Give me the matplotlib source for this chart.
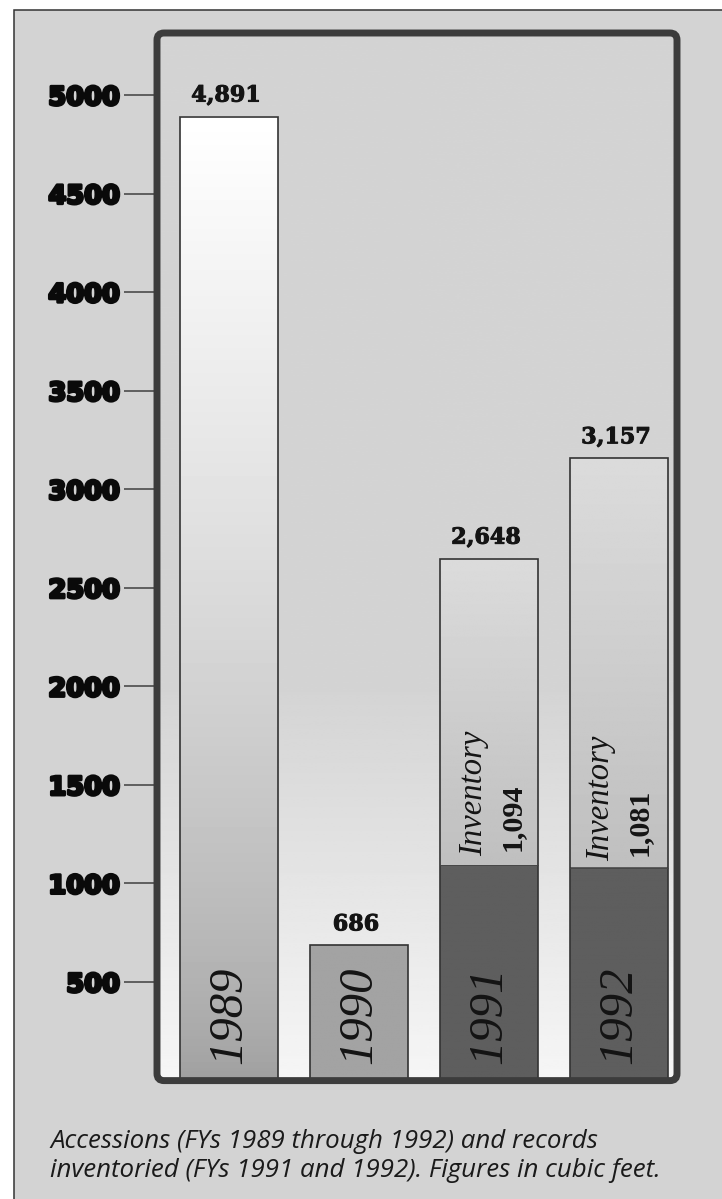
import matplotlib
matplotlib.use('Agg')
import matplotlib.pyplot as plt
import matplotlib.patheffects as pe
from matplotlib.patches import Rectangle, FancyBboxPatch
import numpy as np


# ----------------------------------------------------------------------------------- #
#                                        Data                                         #
# ----------------------------------------------------------------------------------- #

years = ['1989', '1990', '1991', '1992']
accessions = [4891, 686, 2648, 3157]
inventory = [0, 0, 1094, 1081]
y_ticks = [500, 1000, 1500, 2000, 2500, 3000, 3500, 4000, 4500, 5000]
caption_lines = ['Accessions (FYs 1989 through 1992) and records',
                 'inventoried (FYs 1991 and 1992). Figures in cubic feet.']

# ----------------------------------------------------------------------------------- #
#                                       Layout                                        #
# ----------------------------------------------------------------------------------- #

W, H = 722, 1199
BG = '#d3d3d3'
FRAME = '#3c3c3c'
INK = '#141414'
PX = 0.72  # points per pixel at 100 dpi

fig = plt.figure(figsize=(W / 100, H / 100), dpi=100, facecolor='white')

# Grey panel with thin outer rule
fig.patches.append(Rectangle((14 / W, -0.02), 1.1, 1 - 10 / H + 0.02,
                             transform=fig.transFigure, facecolor=BG,
                             edgecolor='#333333', linewidth=1.1, zorder=-1))

ax_left, ax_right, ax_top, ax_bottom = 157, 677, 33, 1080.6
ax = fig.add_axes([ax_left / W, (H - ax_bottom) / H,
                   (ax_right - ax_left) / W, (ax_bottom - ax_top) / H])
ax.set_facecolor('none')

x_lo, x_hi = -0.554, 3.446
y_top = 5315
bar_w = 0.75

# Plot area background: grey fading to white near the base
grad_vals = np.linspace(0, y_top, 400)
bg_col = 0.965 - 0.135 * np.clip(grad_vals / 2000, 0, 1)
ax.imshow(bg_col[::-1].reshape(-1, 1), cmap='gray', vmin=0, vmax=1,
          extent=[x_lo, x_hi, 0, y_top], aspect='auto', zorder=0)


def gradient_bar(x, y0, y1, top_gray, bottom_gray, power=1.0):
    t = np.linspace(0, 1, 300) ** power
    col = bottom_gray + (top_gray - bottom_gray) * t
    ax.imshow(col[::-1].reshape(-1, 1), cmap='gray', vmin=0, vmax=1,
              extent=[x - bar_w / 2, x + bar_w / 2, y0, y1],
              aspect='auto', zorder=1)


xs = np.arange(len(years))
for x, total, inv in zip(xs, accessions, inventory):
    if x == 0:
        gradient_bar(x, 0, total, 1.0, 0.62, power=0.7)
    elif inv == 0:
        gradient_bar(x, 0, total, 0.64, 0.64)
    else:
        gradient_bar(x, inv, total, 0.86, 0.75)
        gradient_bar(x, 0, inv, 0.37, 0.37)

ax.bar(xs, accessions, width=bar_w, fill=False, edgecolor='#333333',
       linewidth=1.2, zorder=2)
for x, inv in zip(xs, inventory):
    if inv:
        ax.plot([x - bar_w / 2, x + bar_w / 2], [inv, inv], color='#444444',
                linewidth=0.6, zorder=2)

bold_ink = [pe.withStroke(linewidth=0.7, foreground=INK)]

# Totals above the bars
for x, total in zip(xs, accessions):
    ax.annotate(f'{total:,}', (x, total), xytext=(-3 * PX, 15 * PX),
                textcoords='offset points', ha='center', va='baseline',
                family='DejaVu Serif', weight='bold', fontsize=16,
                color=INK, zorder=3, path_effects=bold_ink)

# Year names running up each bar
for x, year in zip(xs, years):
    ax.annotate(year, (x, 0), xytext=(0, 17 * PX), textcoords='offset points',
                rotation=90, ha='center', va='bottom', family='Liberation Serif',
                style='italic', fontsize=35, color=INK, zorder=3)

# Inventory notes just above the dark segment
inv_offsets = {2: (-15, 9, 23, 14), 3: (-18, 7, 20, 12)}
for x, inv in zip(xs, inventory):
    if not inv:
        continue
    dx1, dy1, dx2, dy2 = inv_offsets[x]
    ax.annotate('Inventory', (x, inv), xytext=(dx1 * PX, dy1 * PX),
                textcoords='offset points', rotation=90, ha='center', va='bottom',
                family='Liberation Serif', style='italic', fontsize=23.5,
                color=INK, zorder=3)
    ax.annotate(f'{inv:,}', (x, inv), xytext=(dx2 * PX, dy2 * PX),
                textcoords='offset points', rotation=90, ha='center', va='bottom',
                family='Liberation Serif', weight='bold', fontsize=21.6,
                color=INK, zorder=3)

ax.set_xlim(x_lo, x_hi)
ax.set_ylim(0, y_top)
ax.set_xticks([])
ax.set_yticks(y_ticks)
ax.set_yticklabels([str(t) for t in y_ticks], family='DejaVu Sans',
                   weight='heavy', fontsize=18.5, color='#0a0a0a')
for lbl in ax.get_yticklabels():
    lbl.set_path_effects([pe.withStroke(linewidth=2.2, foreground='#0a0a0a')])
ax.tick_params(axis='y', direction='out', length=24, width=1.3,
               color='#555555', pad=2.5)
for s in ax.spines.values():
    s.set_visible(False)

# Heavy rounded frame round the plot area
fig.patches.append(FancyBboxPatch((ax_left / 100, (H - ax_bottom) / 100),
                                  (ax_right - ax_left) / 100,
                                  (ax_bottom - ax_top) / 100,
                                  boxstyle='round,pad=0,rounding_size=0.07',
                                  transform=fig.dpi_scale_trans, facecolor='none',
                                  edgecolor=FRAME, linewidth=5.0, zorder=5))

# Caption
fig.text(50 / W, (H - 1148) / H, caption_lines[0], family='Open Sans',
         style='italic', fontsize=18.6, color='#1a1a1a', va='baseline')
fig.text(50 / W, (H - 1177) / H, caption_lines[1], family='Open Sans',
         style='italic', fontsize=18.6, color='#1a1a1a', va='baseline')

fig.savefig('out.png', dpi=100, facecolor='white')
